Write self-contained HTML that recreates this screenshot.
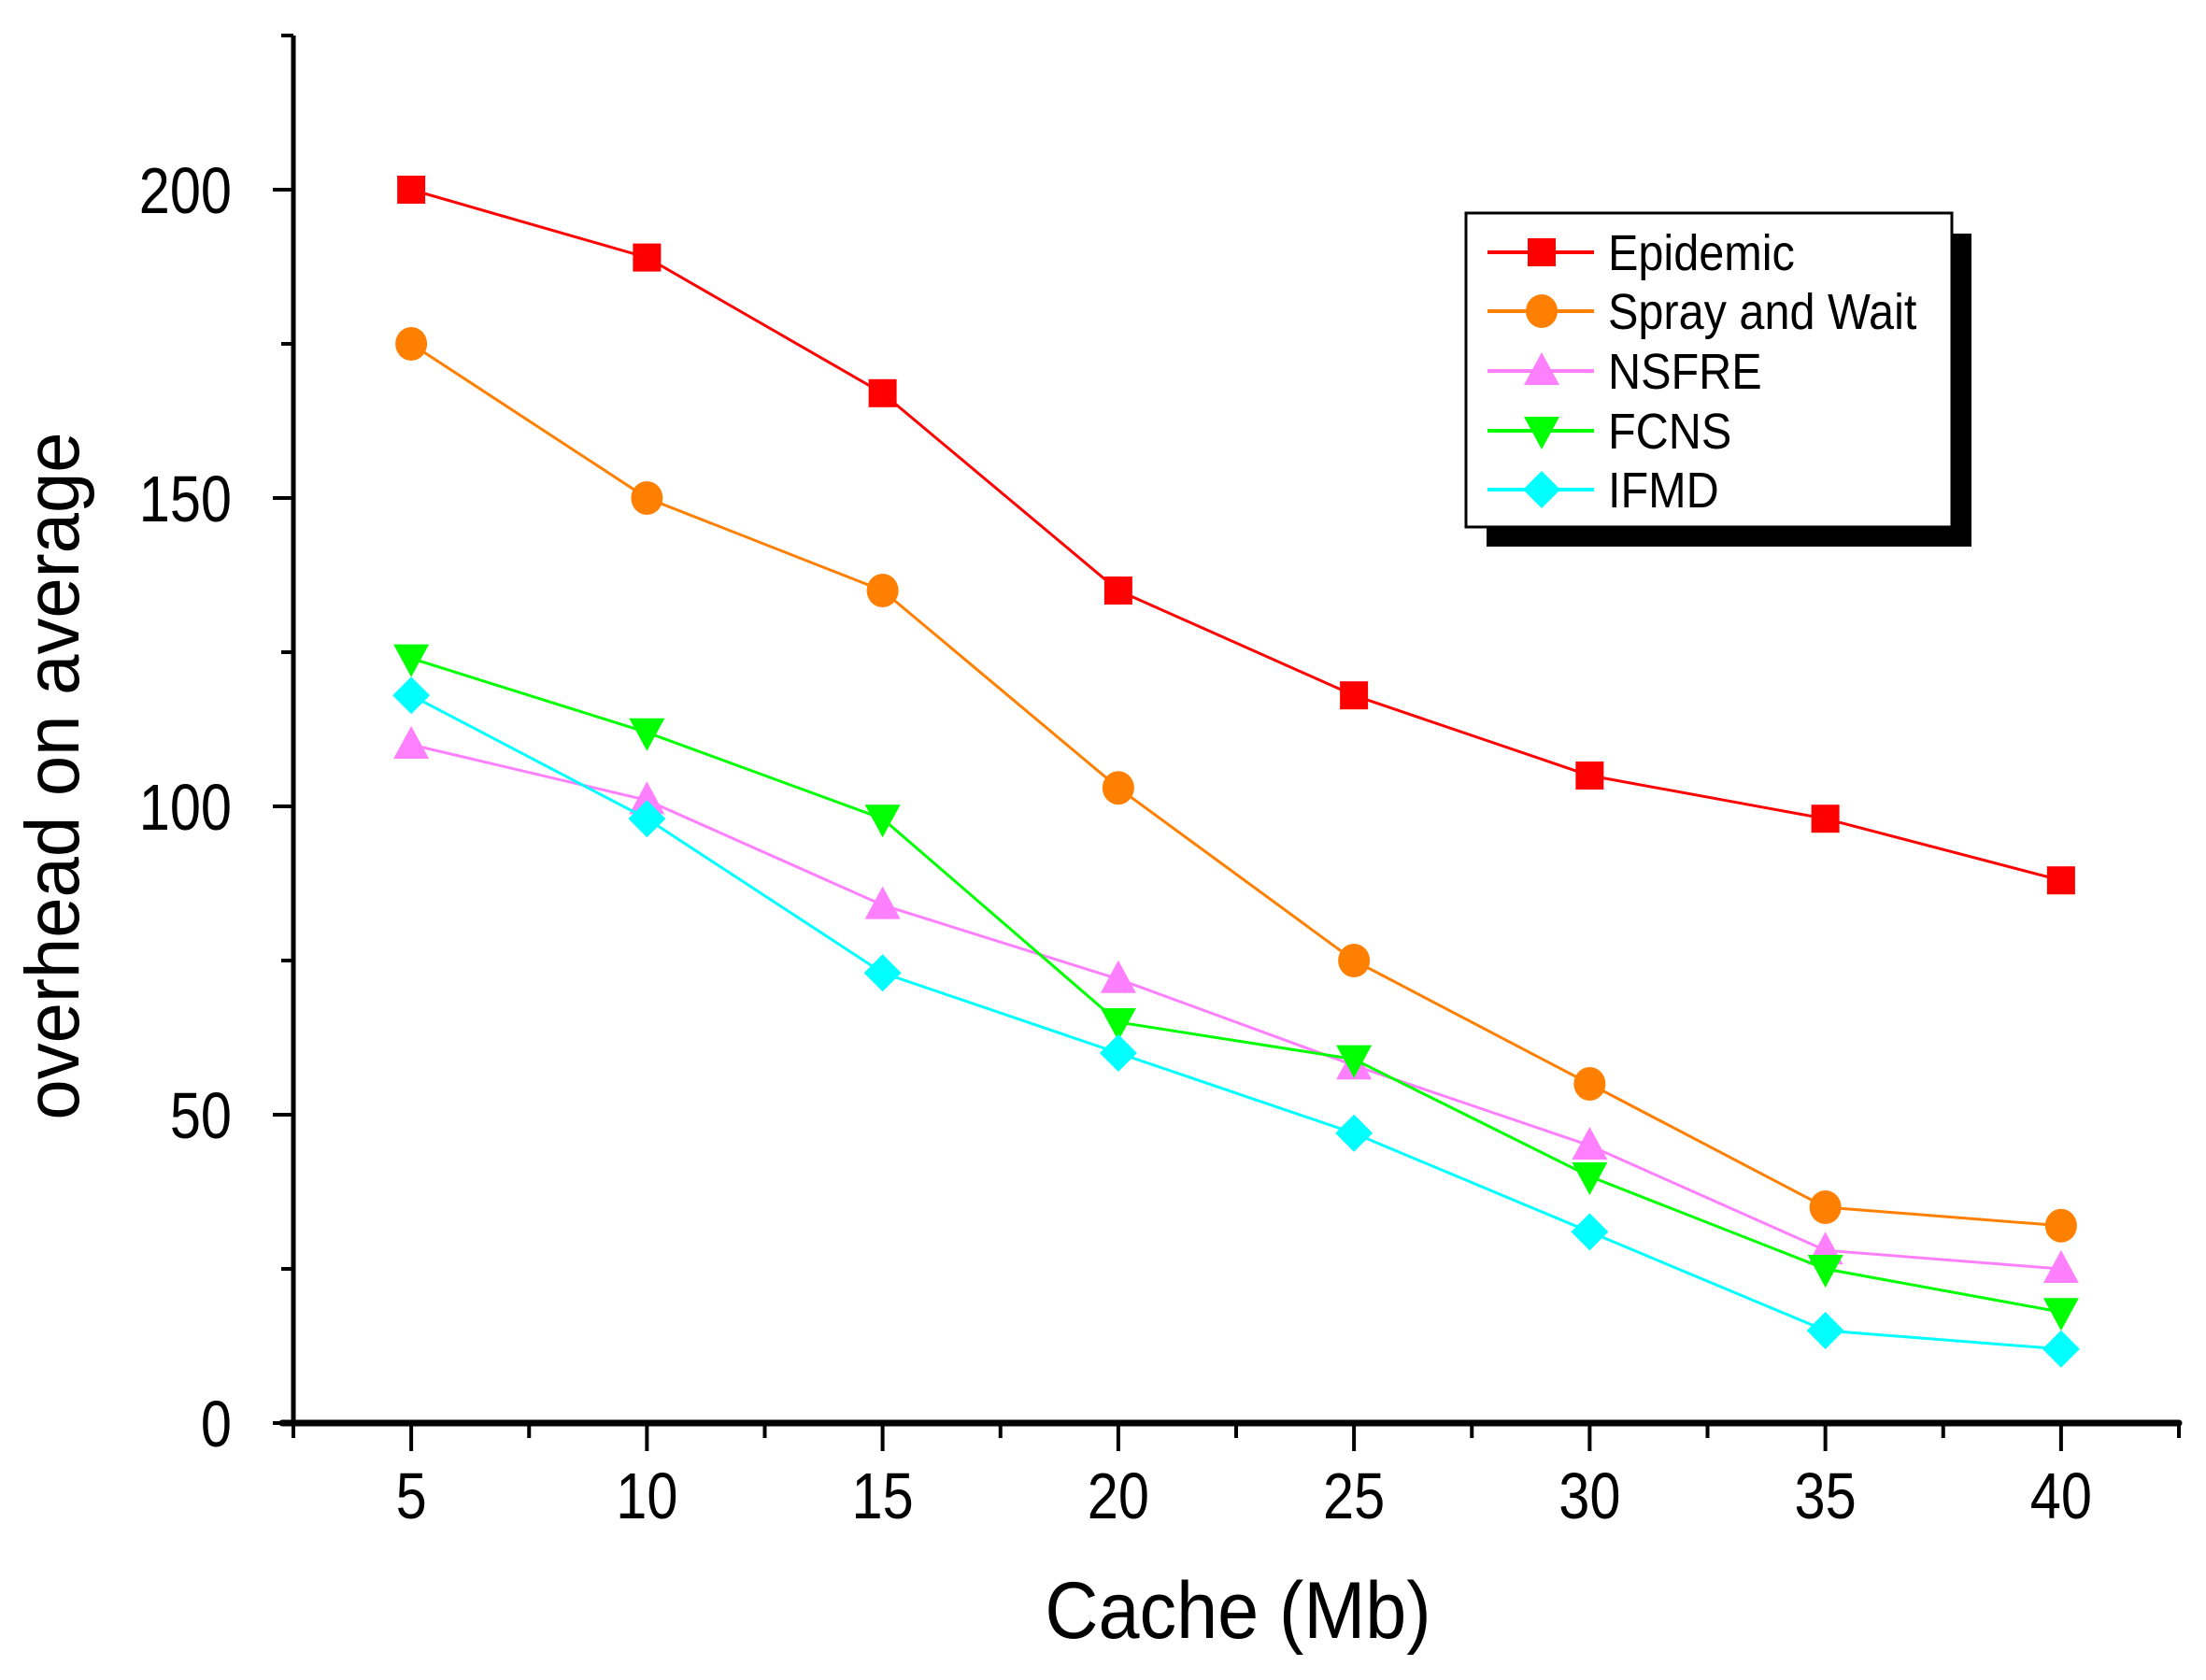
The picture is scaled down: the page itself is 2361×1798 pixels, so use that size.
<!DOCTYPE html>
<html><head><meta charset="utf-8"><style>
html,body{margin:0;padding:0;background:#fff;}
svg{display:block;font-family:"Liberation Sans",Arial,sans-serif;}
</style></head><body>
<svg id="chart" width="2361" height="1798" viewBox="0 0 2361 1798" xmlns="http://www.w3.org/2000/svg"></svg>
<script>
const categories=[5,10,15,20,25,30,35,40];
const epidemic=[200,189,167,135,118,105,98,88];
const spray=[175,150,135,103,75,55,35,32];
const nsfre=[110,101,84,72,58,45,28,25];
const fcns=[124,112,98,65,59,40,25,18];
const ifmd=[118,98,73,60,47,31,15,12];
const xTicks=[5,10,15,20,25,30,35,40];
const yTicks=[0,50,100,150,200];
const seriesNames=["Epidemic","Spray and Wait","NSFRE","FCNS","IFMD"];

const L=314,R=2332,T=38,B=1523;
const xMin=2.5,xMax=42.5,yMin=0,yMax=225;
const X=v=>L+(v-xMin)/(xMax-xMin)*(R-L);
const Y=v=>B-(v-yMin)/(yMax-yMin)*(B-T);
const NS="http://www.w3.org/2000/svg";
const svg=document.getElementById('chart');
function mk(tag,attrs,parent){const e=document.createElementNS(NS,tag);for(const k in attrs)e.setAttribute(k,attrs[k]);(parent||svg).appendChild(e);return e;}
function txt(str,x,y,size,anchor,sx,parent){
  const t=mk('text',{x:0,y:0,"text-anchor":anchor,"font-size":size,transform:`translate(${x},${y}) scale(${sx},1)`},parent);
  t.textContent=str;return t;
}

const series=[
 {name:seriesNames[0],data:epidemic,color:"#ff0000",shape:"square"},
 {name:seriesNames[1],data:spray,color:"#ff8000",shape:"circle"},
 {name:seriesNames[2],data:nsfre,color:"#ff80ff",shape:"up"},
 {name:seriesNames[3],data:fcns,color:"#00ff00",shape:"down"},
 {name:seriesNames[4],data:ifmd,color:"#00ffff",shape:"diamond"}
];
function marker(shape,cx,cy,color,g){
  const s=17;let e;
  if(shape==="square")e=mk('rect',{x:cx-s+2,y:cy-s+2,width:2*s-4,height:2*s-4,fill:color},g);
  else if(shape==="circle")e=mk('ellipse',{cx:cx,cy:cy,rx:s,ry:s+1,fill:color},g);
  else if(shape==="up")e=mk('polygon',{points:`${cx},${cy-s-3} ${cx+s+2},${cy+s-2} ${cx-s-2},${cy+s-2}`,fill:color},g);
  else if(shape==="down")e=mk('polygon',{points:`${cx},${cy+s+3} ${cx+s+2},${cy-s+2} ${cx-s-2},${cy-s+2}`,fill:color},g);
  else e=mk('polygon',{points:`${cx},${cy-s-3} ${cx+s+3},${cy} ${cx},${cy+s+3} ${cx-s-3},${cy}`,fill:color},g);
  return e;
}

const ax=mk('g',{});


mk('line',{x1:L,y1:T,x2:L,y2:B+3,stroke:"#000","stroke-width":5},ax);
mk('line',{x1:L-12,y1:B,x2:R,y2:B,stroke:"#000","stroke-width":7,"stroke-linecap":"round"},ax);
for(let v=0;v<=225;v+=25){const y=Y(v);const major=v%50===0;
  mk('line',{x1:L-(major?22:13),y1:y,x2:L,y2:y,stroke:"#000","stroke-width":4},ax);}
for(let v=2.5;v<=42.5;v+=2.5){const x=X(v);const major=Math.abs(v%5)<0.01;
  mk('line',{x1:x,y1:B,x2:x,y2:B+(major?30:16),stroke:"#000","stroke-width":4},ax);}
yTicks.forEach(v=>{const t=txt(String(v),L-66,Y(v)+25,70,"end",0.85,ax);
  });
xTicks.forEach(v=>{const t=txt(String(v),X(v),B+102,70,"middle",0.85,ax);
  });
const xt=txt("Cache (Mb)",(L+R)/2+2,1753,86,"middle",0.92,svg);

const yt=mk('text',{x:0,y:0,"text-anchor":"middle","font-size":82,transform:`translate(84,${(T+B)/2+50}) rotate(-90) scale(0.95,1)`});yt.textContent="overhead on average";


series.forEach(s=>{
  const g=mk('g',{});
  
  
  const pts=s.data.map((v,i)=>X(categories[i])+','+Y(v)).join(' ');
  mk('polyline',{points:pts,fill:"none",stroke:s.color,"stroke-width":3},g);
  s.data.forEach((v,i)=>{const m=marker(s.shape,X(categories[i]),Y(v),s.color,g);
    });
});

const lg=mk('g',{});


mk('rect',{x:1591,y:250,width:519,height:335,fill:"#000"},lg);
mk('rect',{x:1569,y:228,width:520,height:336,fill:"#fff",stroke:"#000","stroke-width":3},lg);
const rows=[270,333,397,461,524];
series.forEach((s,i)=>{
  const e=mk('g',{},lg);
  
  
  const y=rows[i];
  mk('line',{x1:1592,y1:y,x2:1706,y2:y,stroke:s.color,"stroke-width":4},e);
  marker(s.shape,1650,y,s.color,e);
  txt(s.name,1721,y+19,54,"start",0.9,e);
});
</script>
</body></html>
